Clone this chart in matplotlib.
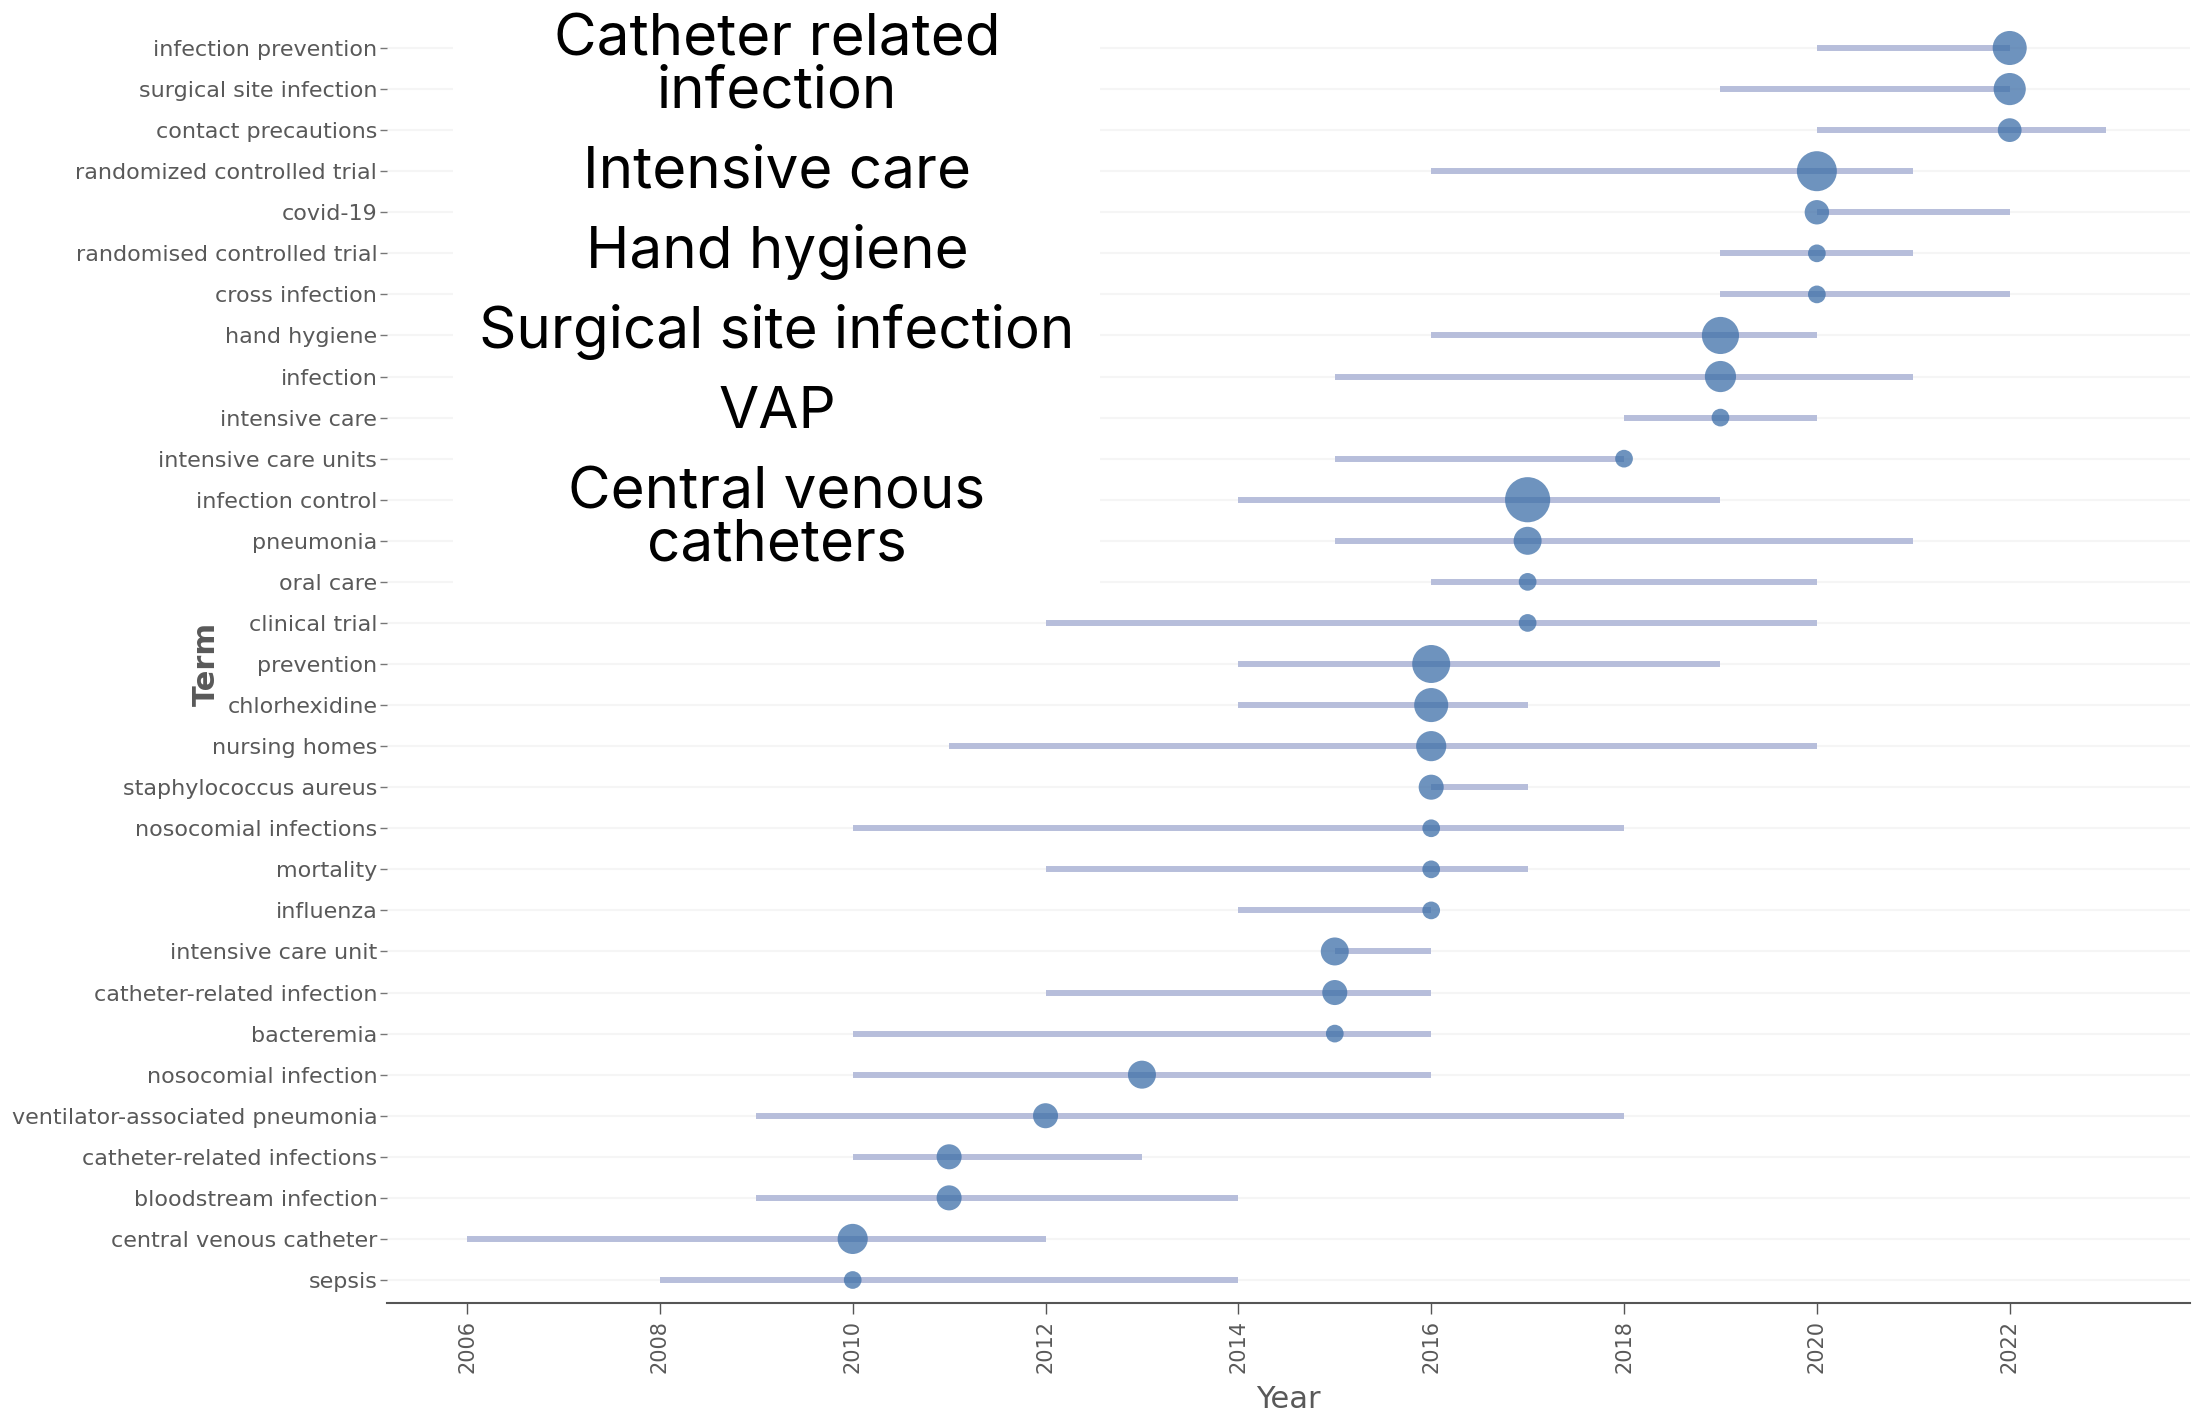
import numpy as np
import matplotlib.pyplot as plt
from matplotlib.patches import Rectangle

# Trend topics: terms listed top -> bottom as in the chart
terms = [
    "infection prevention", "surgical site infection", "contact precautions",
    "randomized controlled trial", "covid-19", "randomised controlled trial",
    "cross infection", "hand hygiene", "infection", "intensive care",
    "intensive care units", "infection control", "pneumonia", "oral care",
    "clinical trial", "prevention", "chlorhexidine", "nursing homes",
    "staphylococcus aureus", "nosocomial infections", "mortality", "influenza",
    "intensive care unit", "catheter-related infection", "bacteremia",
    "nosocomial infection", "ventilator-associated pneumonia",
    "catheter-related infections", "bloodstream infection",
    "central venous catheter", "sepsis",
]
year_q1 = [2020, 2019, 2020, 2016, 2020, 2019, 2019, 2016, 2015, 2018,
           2015, 2014, 2015, 2016, 2012, 2014, 2014, 2011, 2016, 2010,
           2012, 2014, 2015, 2012, 2010, 2010, 2009, 2010, 2009, 2006, 2008]
year_med = [2022, 2022, 2022, 2020, 2020, 2020, 2020, 2019, 2019, 2019,
            2018, 2017, 2017, 2017, 2017, 2016, 2016, 2016, 2016, 2016,
            2016, 2016, 2015, 2015, 2015, 2013, 2012, 2011, 2011, 2010, 2010]
year_q3 = [2022, 2022, 2023, 2021, 2022, 2021, 2022, 2020, 2021, 2020,
           2018, 2019, 2021, 2020, 2020, 2019, 2017, 2020, 2017, 2018,
           2017, 2016, 2016, 2016, 2016, 2016, 2018, 2013, 2014, 2012, 2014]
freq = [37, 33, 18, 51, 19, 10, 10, 44, 31, 10,
        10, 65, 25, 10, 10, 46, 37, 29, 20, 10,
        10, 10, 25, 20, 10, 25, 20, 20, 20, 29, 10]
year_ticks = list(range(2006, 2023, 2))

# text box laid over the upper-left part of the chart
overlay = [["Catheter related", "infection"], ["Intensive care"], ["Hand hygiene"],
           ["Surgical site infection"], ["VAP"], ["Central venous", "catheters"]]

W, H, DPI = 2201, 1416, 100
fig = plt.figure(figsize=(W / DPI, H / DPI), dpi=DPI)
ax = fig.add_axes([387 / W, 1 - 1303 / H, (2190 - 387) / W, (1303 - 25) / H])

n = len(terms)
ypos = np.arange(n)[::-1]

for y in ypos:
    ax.axhline(y, color="#f5f5f5", lw=1.5, zorder=0)

ax.hlines(ypos, year_q1, year_q3, color="#b7bedb", lw=4.3, zorder=2,
          capstyle="butt")
diam_px = 5.6 * np.sqrt(np.array(freq))
ax.scatter(year_med, ypos, s=(diam_px * 72 / DPI) ** 2, color="#3e6fa8",
           alpha=0.75, edgecolors="none", zorder=3)

ax.set_xlim(2005.17, 2023.87)
ax.set_ylim(-0.56, n - 1 + 0.56)
ax.set_yticks(ypos)
ax.set_yticklabels(terms)
ax.set_xticks(year_ticks)
ax.set_xticklabels([str(t) for t in year_ticks], rotation=90)

for s in ["top", "right", "left"]:
    ax.spines[s].set_visible(False)
ax.spines["bottom"].set_color("#555555")
ax.spines["bottom"].set_linewidth(1.5)

ax.tick_params(axis="y", length=5, width=1, color="#777777", pad=2,
               labelsize=16, labelcolor="#595959")
ax.tick_params(axis="x", length=8, width=1, color="#555555", pad=4,
               labelsize=15, labelcolor="#595959")

ax.set_xlabel("Year", fontsize=22, color="#595959")
ax.xaxis.set_label_coords(0.5, -0.064)
ax.set_ylabel("Term", fontsize=22, color="#595959", fontweight="bold")
ax.yaxis.set_label_coords(-0.092, 0.5)

# white box hiding grid behind overlay text
fig.patches.append(Rectangle((453 / W, 1 - 600 / H), (1100 - 453) / W, 600 / H,
                             transform=fig.transFigure, facecolor="white",
                             edgecolor="none", zorder=1))

y_base = 55
for para in overlay:
    for line in para:
        fig.text(777 / W, 1 - y_base / H, line, ha="center", va="baseline",
                 fontsize=42, family=["Inter", "DejaVu Sans"], color="black",
                 zorder=5)
        y_base += 53
    y_base += 80 - 53

fig.savefig("out.png", dpi=DPI)
